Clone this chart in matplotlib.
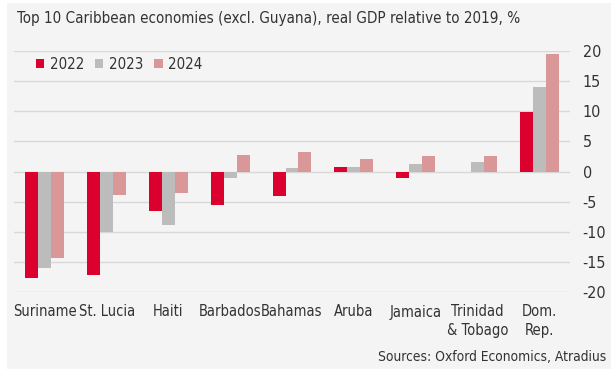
import numpy as np
import matplotlib
matplotlib.use("Agg")
import matplotlib.pyplot as plt
from matplotlib.patches import Rectangle

# real GDP relative to 2019, %
kraje = ["Suriname", "St. Lucia", "Haiti", "Barbados", "Bahamas", "Aruba",
         "Jamaica", "Trinidad\n& Tobago", "Dom.\nRep."]
lata = ["2022", "2023", "2024"]
gdp_2022 = [-17.6, -17.2, -6.6, -5.6, -4.0, 0.8, -1.0, 0.0, 9.8]
gdp_2023 = [-16.0, -10.0, -8.8, -1.1, 0.5, 0.7, 1.2, 1.6, 14.0]
gdp_2024 = [-14.3, -3.9, -3.5, 2.8, 3.2, 2.1, 2.5, 2.5, 19.5]
kolory = ["#dc002e", "#bcbcbc", "#d99797"]

plt.rcParams['font.family'] = ['DejaVu Sans']
plt.rcParams['font.stretch'] = 'condensed'
plt.rcParams['axes.unicode_minus'] = False
tlo = "#f4f4f4"
tekst = "#333333"

fig = plt.figure(figsize=(6.11, 3.74), dpi=100, facecolor="white")
# szare tlo wykresu z bialym marginesem
fig.patches.append(Rectangle((7 / 611, 5 / 374), 1, 366 / 374,
                             transform=fig.transFigure, facecolor=tlo,
                             edgecolor='none', zorder=-10))
ax = fig.add_axes([14 / 611, 82 / 374, 556 / 611, 241 / 374])
ax.patch.set_visible(False)

x = np.arange(len(kraje))
szer = 0.21
for i, (dane, rok) in enumerate(zip([gdp_2022, gdp_2023, gdp_2024], lata)):
    ax.bar(x + (i - 1) * szer, dane, width=szer, color=kolory[i], label=rok,
           zorder=3)

ax.set_xlim(-0.5, 8.5)
ax.set_ylim(-20, 20)
ax.set_yticks(range(-20, 21, 5))
ax.yaxis.tick_right()
ax.tick_params(axis='y', length=0, pad=9, labelsize=11.5, labelcolor=tekst)
ax.set_xticks(x)
ax.set_xticklabels(kraje, fontsize=10.5, color=tekst, linespacing=1.3,
                   va='top')
ax.tick_params(axis='x', length=0, pad=9)
ax.grid(axis='y', color="#d8d8d8", linewidth=1, zorder=0)
for s in ax.spines.values():
    s.set_visible(False)

ax.legend(loc='center left', bbox_to_anchor=(0.018, 0.945), ncol=3,
          frameon=False, handlelength=0.55, handleheight=0.55,
          handletextpad=0.35, columnspacing=0.75, fontsize=10.8,
          labelcolor=tekst, borderaxespad=0.4)

fig.text(17 / 611, 1 - 18 / 374,
         "Top 10 Caribbean economies (excl. Guyana), real GDP relative to 2019, %",
         fontsize=10.9, color=tekst, va='center')
fig.text(606 / 611, 1 - 357 / 374, "Sources: Oxford Economics, Atradius",
         fontsize=9.9, color=tekst, ha='right', va='center')

fig.savefig("out.png", dpi=100, facecolor="white")
